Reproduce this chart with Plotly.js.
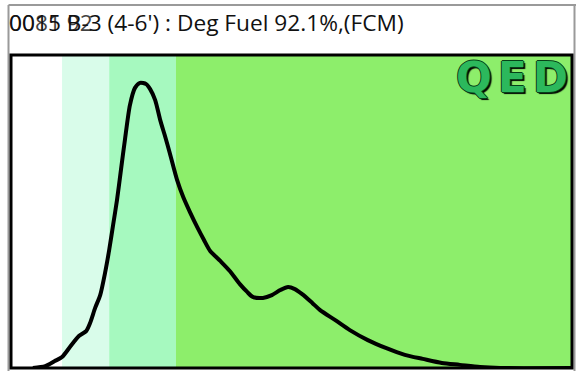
<!DOCTYPE html>
<html>
<head>
<meta charset="utf-8">
<script src="https://cdn.plot.ly/plotly-3.0.1.min.js"></script>
<style>html,body{margin:0;padding:0;background:#fff;}#chart{width:576px;height:371px;}</style>
</head>
<body>
<div id="chart"></div>
<script>
// ---- data ----
const curveX = [3.9,6.1,7.8,9.1,10.5,12.1,13.4,14.1,15.0,15.9,16.8,17.5,18.2,18.9,19.6,20.3,21.2,22.1,23.0,24.1,24.8,25.7,26.6,27.5,28.3,29.6,30.7,31.9,33.2,34.4,35.5,37.3,39.0,40.8,42.1,43.1,44.9,46.5,48.0,49.4,50.6,51.9,53.7,55.1,57.8,60.4,63.6,66.8,70.2,73.4,76.8,80.0,83.6,87.2,100];
const curveY = [0,0.6,2.2,3.5,6.7,10.2,11.8,14.4,19.2,23.3,30.7,37.7,45.7,53.7,63.3,72.8,84.0,89.5,91.1,90.7,89.1,85.6,79.2,73.8,68.7,60.1,54.6,49.8,45.0,40.9,37.4,34.2,31.0,26.8,24.3,22.7,22.4,23.3,24.9,25.9,25.2,23.6,20.8,18.5,15.3,12.1,8.9,6.4,4.2,2.9,1.6,1.0,0.3,0,0];
const bandEdges = [0, 9.1, 17.5, 29.4, 100];
const bandColors = ['#ffffff', '#d9fcea', '#a6f9bf', '#8dee6b'];
const titleMain = "0015 B-3 (4-6') : Deg Fuel 92.1%,(FCM)";
const titleOverlay = "0081 92";
const logoText = "QED";

// ---- layout geometry (pixels) ----
const W = 576, H = 371, L = 11, R = 572, T = 55, B = 368;
const px2x = p => (p - L) / (R - L);
const py2y = p => (B - p) / (B - T);

const shapes = [];
for (let i = 0; i < bandColors.length; i++) {
  shapes.push({type:'rect', xref:'x', yref:'paper', x0:bandEdges[i], x1:bandEdges[i+1], y0:0, y1:1,
    fillcolor:bandColors[i], line:{width:0}, layer:'below'});
}
// outer grey frame
const grey = {color:'#9a9a9a', width:2};
shapes.push({type:'line', xref:'paper', yref:'paper', x0:px2x(8.5), x1:px2x(8.5), y0:py2y(5), y1:py2y(371), line:grey});
shapes.push({type:'line', xref:'paper', yref:'paper', x0:px2x(8.5), x1:px2x(576), y0:py2y(5), y1:py2y(5), line:grey});
shapes.push({type:'line', xref:'paper', yref:'paper', x0:px2x(574.5), x1:px2x(574.5), y0:py2y(5), y1:py2y(371), line:grey});
// plot border
shapes.push({type:'rect', xref:'paper', yref:'paper', x0:0, x1:1, y0:0, y1:1, line:{color:'#000', width:3}, layer:'above'});

const trace = {x:curveX, y:curveY, type:'scatter', mode:'lines',
  line:{color:'#000', width:4, shape:'spline', smoothing:0.7}, hoverinfo:'skip'};

const titleFont = {family:'Open Sans', size:22.7, color:'#111'};
const annotations = [
  {text:titleMain, xref:'paper', yref:'paper', x:px2x(7), y:py2y(22), xanchor:'left', yanchor:'middle', showarrow:false, font:titleFont},
  {text:titleOverlay, xref:'paper', yref:'paper', x:px2x(7), y:py2y(22), xanchor:'left', yanchor:'middle', showarrow:false, font:titleFont, opacity:0.8}
];
const logoCenters = [474, 512, 550];
logoText.split('').forEach((ch, i) => {
  annotations.push({text:ch, xref:'paper', yref:'paper', x:px2x(logoCenters[i]), y:py2y(78), xanchor:'center', yanchor:'middle', showarrow:false,
    font:{family:'DejaVu Sans', size:42, color:'#2cb85c', weight:'bold',
      shadow:'1px 0 0 #064018, -1px 0 0 #064018, 0 1px 0 #064018, 0 -1px 0 #064018, 2px 2px 1px #000'}});
});

const layout = {
  width:W, height:H, margin:{l:L, r:W-R, t:T, b:H-B, pad:0},
  paper_bgcolor:'#fff', plot_bgcolor:'#fff', showlegend:false,
  xaxis:{range:[0,100], visible:false, fixedrange:true},
  yaxis:{range:[0,100], visible:false, fixedrange:true},
  shapes:shapes,
  annotations:annotations
};
Plotly.newPlot('chart', [trace], layout, {staticPlot:true, displayModeBar:false});
</script>
</body>
</html>
